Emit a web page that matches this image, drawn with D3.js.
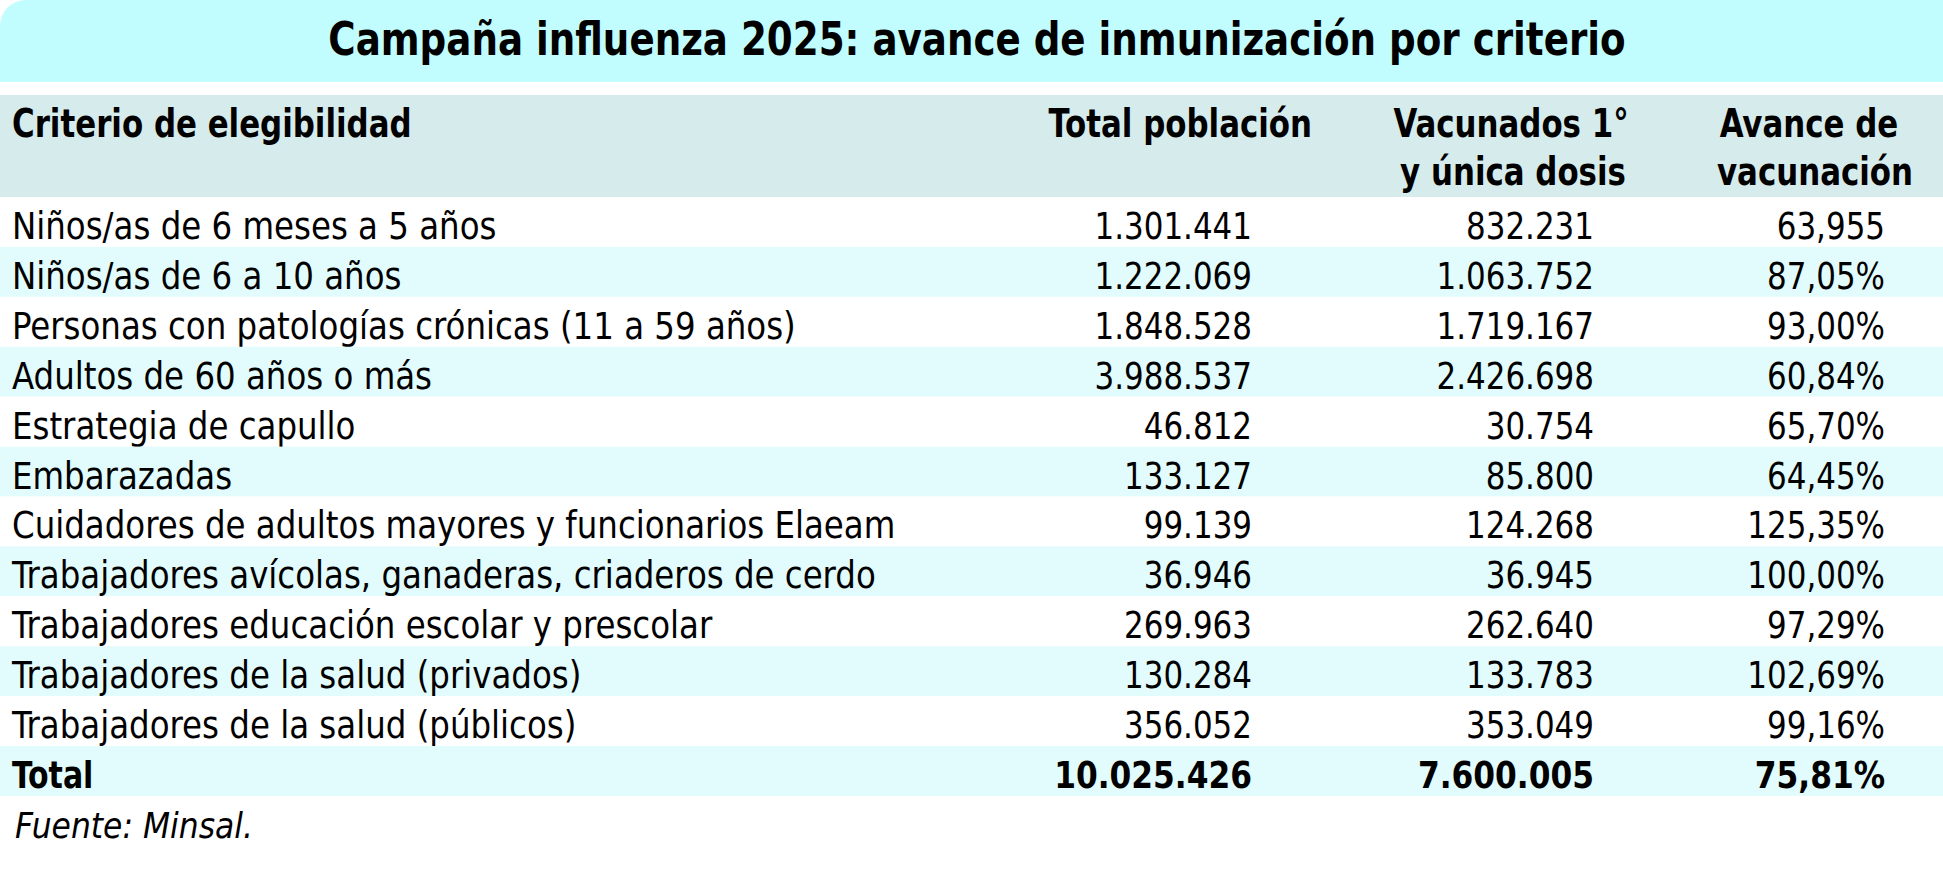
<!DOCTYPE html>
<html>
<head>
<meta charset="utf-8">
<script src="https://cdn.jsdelivr.net/npm/d3@7"></script>
<style>
  body { margin: 0; background: #fff; }
  text { font-family: "DejaVu Sans Condensed", "Liberation Sans Narrow", sans-serif; fill: #000; }
</style>
</head>
<body>
<svg id="chart" width="1943" height="873"></svg>
<script>
// datos de la tabla (Minsal)
const titulo = 'Campaña influenza 2025: avance de inmunización por criterio';
const criterios = [
  'Niños/as de 6 meses a 5 años',
  'Niños/as de 6 a 10 años',
  'Personas con patologías crónicas (11 a 59 años)',
  'Adultos de 60 años o más',
  'Estrategia de capullo',
  'Embarazadas',
  'Cuidadores de adultos mayores y funcionarios Elaeam',
  'Trabajadores avícolas, ganaderas, criaderos de cerdo',
  'Trabajadores educación escolar y prescolar',
  'Trabajadores de la salud (privados)',
  'Trabajadores de la salud (públicos)'
];
const totalPoblacion = [1301441, 1222069, 1848528, 3988537, 46812, 133127, 99139, 36946, 269963, 130284, 356052];
const vacunados = [832231, 1063752, 1719167, 2426698, 30754, 85800, 124268, 36945, 262640, 133783, 353049];
const avance = ['63,955', '87,05%', '93,00%', '60,84%', '65,70%', '64,45%', '125,35%', '100,00%', '97,29%', '102,69%', '99,16%'];
const total = { label: 'Total', poblacion: 10025426, vacunados: 7600005, avance: '75,81%' };
const fuente = 'Fuente: Minsal.';

const es = d3.formatLocale({ decimal: ',', thousands: '.', grouping: [3], currency: ['$', ''] });
const fmt = es.format(',d');

const W = 1943;
const svg = d3.select('#chart');

// the source font is a condensed one, so squeeze dejavu a bit
const place = (sel, x, y, sx) => sel.attr('transform', `translate(${x},${y}) scale(${sx},1)`);

// filas
const rows = criterios.map((c, i) => ({ label: c, poblacion: totalPoblacion[i], vacunados: vacunados[i], avance: avance[i], bold: false }));
rows.push({ label: total.label, poblacion: total.poblacion, vacunados: total.vacunados, avance: total.avance, bold: true });

const y = d3.scaleBand()
  .domain(d3.range(rows.length))
  .range([197, 796]);

// columnas: borde derecho de los números
const cols = [
  { key: 'poblacion', right: 1252, fmt: fmt },
  { key: 'vacunados', right: 1594, fmt: fmt },
  { key: 'avance', right: 1885, fmt: d => d }
];

// banda del título con la esquina superior izquierda redondeada
const r = 26;
svg.append('path')
  .attr('d', `M0,82 V${r} A${r},${r} 0 0 1 ${r},0 H${W} V82 Z`)
  .attr('fill', '#c1fdfe');

svg.append('text')
  .attr('text-anchor', 'middle')
  .attr('font-weight', 'bold')
  .attr('font-size', 46)
  .text(titulo)
  .call(place, 977, 55, 0.9);

// encabezado
svg.append('rect')
  .attr('x', 0).attr('y', 95)
  .attr('width', W).attr('height', 102)
  .attr('fill', '#d5ebec');

const header = svg.append('g')
  .attr('font-weight', 'bold')
  .attr('font-size', 39);

const hsx = 0.88;
header.append('text').text('Criterio de elegibilidad').call(place, 12, 137, hsx);
header.append('text').attr('text-anchor', 'end').text('Total población').call(place, 1312, 137, hsx);
header.append('text').attr('text-anchor', 'middle').text('Vacunados 1°').call(place, 1511, 137, hsx);
header.append('text').attr('text-anchor', 'middle').text('y única dosis').call(place, 1513, 185, hsx);
header.append('text').attr('text-anchor', 'middle').text('Avance de').call(place, 1809, 137, hsx);
header.append('text').attr('text-anchor', 'middle').text('vacunación').call(place, 1815, 185, hsx);

// cuerpo
const row = svg.append('g').selectAll('g')
  .data(rows)
  .join('g')
  .attr('transform', (d, i) => `translate(0,${y(i)})`)
  .attr('font-size', 37)
  .attr('font-weight', d => d.bold ? 'bold' : 'normal');

row.append('rect')
  .attr('width', W)
  .attr('height', y.bandwidth())
  .attr('fill', (d, i) => i % 2 === 1 ? '#e2fbfc' : '#ffffff');

const base = y.bandwidth() - 8;

row.append('text')
  .text(d => d.label)
  .each(function (d) { place(d3.select(this), 12, base, d.bold ? 0.9 : 0.975); });

cols.forEach(c => {
  row.append('text')
    .attr('text-anchor', 'end')
    .text(d => c.fmt(d[c.key]))
    .each(function (d) { place(d3.select(this), c.right, base, d.bold ? 0.94 : 0.93); });
});

svg.append('text')
  .attr('font-style', 'italic')
  .attr('font-size', 36)
  .text(fuente)
  .call(place, 15, 838, 0.97);
</script>
</body>
</html>
